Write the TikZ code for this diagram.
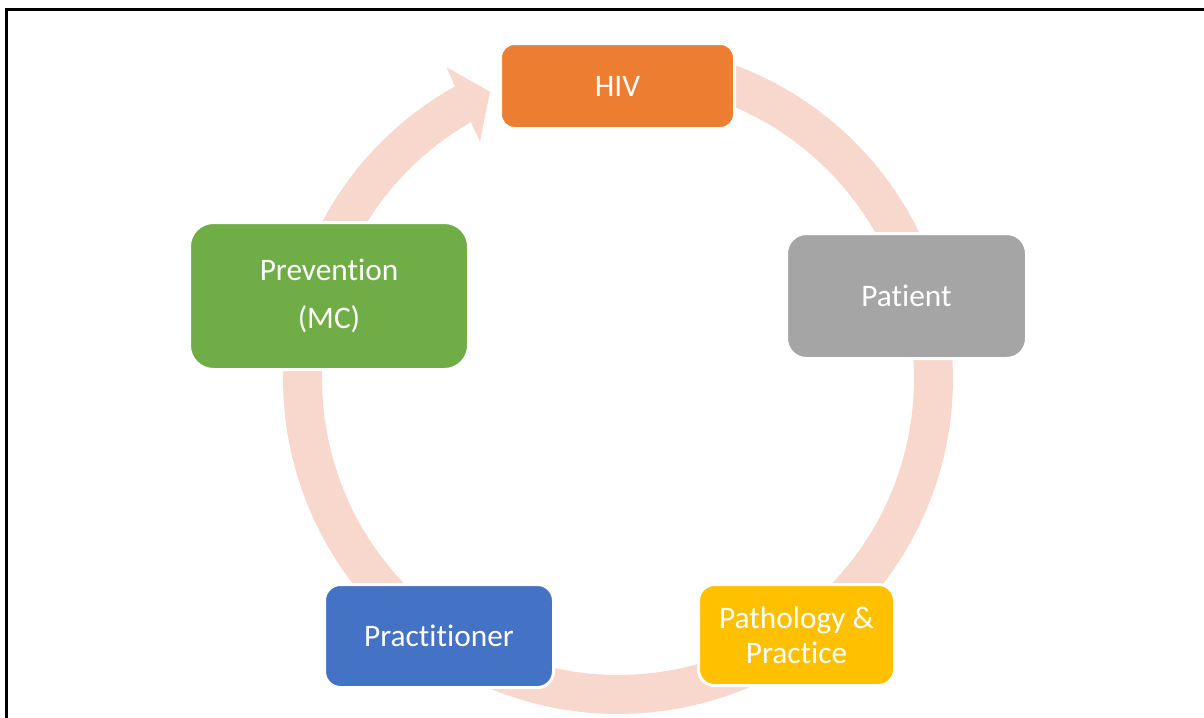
\documentclass[tikz,border=0pt]{standalone}
\usepackage{fontspec}
\setmainfont{Carlito}[Ligatures={NoCommon}]
\definecolor{ringc}{RGB}{248,216,205}
\definecolor{hivc}{RGB}{237,125,49}
\definecolor{patc}{RGB}{165,165,165}
\definecolor{prevc}{RGB}{112,173,71}
\definecolor{pracc}{RGB}{68,114,196}
\definecolor{pathc}{RGB}{255,192,0}
\tikzset{
  cyclebox/.style={rectangle, draw=white, line width=2.25pt, inner sep=0pt,
    text=white, align=center, font=\fontsize{23.5pt}{26.5pt}\selectfont},
}
\begin{document}
\begin{tikzpicture}[x=0.75pt,y=-0.75pt]
\useasboundingbox (0,0) rectangle (1204,718);
% frame
\draw[line width=2.25pt] (6.7,718) -- (6.7,9) -- (1204,9);
% ring with arrow head
\fill[ringc] plot[domain=285:600.85,samples=150] ({618+335*cos(\x)},{379+335*sin(\x)})
  -- (446.7,67.3) -- (490,91.7) -- (480,141.7)
  -- plot[domain=600.2:285,samples=150] ({618+296*cos(\x)},{379+296*sin(\x)}) -- cycle;
% boxes
\node[cyclebox, fill=hivc, rounded corners=10.5pt, minimum width=175.5pt, minimum height=63.75pt] (hiv) at (617.5,86) {HIV};
\node[cyclebox, fill=patc, rounded corners=15pt, minimum width=180pt, minimum height=93.75pt] (patient) at (906.5,296) {Patient};
\node[cyclebox, fill=prevc, rounded corners=18pt, minimum width=209.25pt, minimum height=110.25pt, font=\fontsize{23.5pt}{36pt}\selectfont] (prevention) at (329,296) {Prevention\\(MC)};
\node[cyclebox, fill=pracc, rounded corners=12pt, minimum width=171.75pt, minimum height=77.25pt] (practitioner) at (439,636) {Practitioner};
\node[cyclebox, fill=pathc, rounded corners=12pt, minimum width=147pt, minimum height=75.75pt] (pathology) at (796.5,635) {Pathology \&\\Practice};
\end{tikzpicture}
\end{document}
